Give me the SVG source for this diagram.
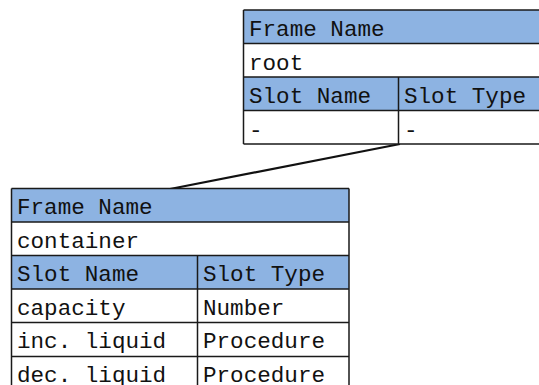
<svg xmlns="http://www.w3.org/2000/svg" width="539" height="385" viewBox="0 0 539 385">
  <style>
    .hdr { fill: #8db3e2; }
    .cell { fill: #ffffff; }
    .grid { fill: none; stroke: #1a1a1a; stroke-width: 1.5; }
    .txt { font-family: "Liberation Mono", "DejaVu Sans Mono", monospace; font-size: 22.6px; fill: #111111; }
    .link { stroke: #111111; stroke-width: 2.2; fill: none; }
  </style>
  <rect width="539" height="385" fill="#ffffff"/>

  <!-- connector between the two frames -->
  <g id="connectors">
    <line class="link" x1="170" y1="189" x2="400" y2="144"/>
  </g>

  <!-- root frame -->
  <g id="frame-root">
    <rect class="hdr" x="243.5" y="10" width="300" height="33.5"/>
    <rect class="cell" x="243.5" y="43.5" width="300" height="33.5"/>
    <rect class="hdr" x="243.5" y="77" width="300" height="33.5"/>
    <rect class="cell" x="243.5" y="110.5" width="300" height="33.5"/>
    <path class="grid" d="M243.5,10 H545 M243.5,43.5 H545 M243.5,77 H545 M243.5,110.5 H545 M243.5,144 H545 M243.5,10 V144 M398.5,77 V144"/>
    <text class="txt" x="249" y="36">Frame Name</text>
    <text class="txt" x="249" y="69.5">root</text>
    <text class="txt" x="249" y="103">Slot Name</text>
    <text class="txt" x="404" y="103">Slot Type</text>
    <text class="txt" x="249" y="136.5">-</text>
    <text class="txt" x="404" y="136.5">-</text>
  </g>

  <!-- container frame -->
  <g id="frame-container">
    <rect class="hdr" x="11.5" y="188.5" width="337.5" height="33.5"/>
    <rect class="cell" x="11.5" y="222" width="337.5" height="33.5"/>
    <rect class="hdr" x="11.5" y="255.5" width="337.5" height="33.5"/>
    <rect class="cell" x="11.5" y="289" width="337.5" height="100"/>
    <path class="grid" d="M11.5,188.5 H349 M11.5,222 H349 M11.5,255.5 H349 M11.5,289 H349 M11.5,322.5 H349 M11.5,356.5 H349 M11.5,390 H349 M11.5,188.5 V392 M349,188.5 V392 M197.5,255.5 V392"/>
    <text class="txt" x="17" y="214">Frame Name</text>
    <text class="txt" x="17" y="247.5">container</text>
    <text class="txt" x="17" y="281">Slot Name</text>
    <text class="txt" x="203" y="281">Slot Type</text>
    <text class="txt" x="17" y="314.5">capacity</text>
    <text class="txt" x="203" y="314.5">Number</text>
    <text class="txt" x="17" y="348">inc. liquid</text>
    <text class="txt" x="203" y="348">Procedure</text>
    <text class="txt" x="17" y="381.5">dec. liquid</text>
    <text class="txt" x="203" y="381.5">Procedure</text>
  </g>
</svg>
